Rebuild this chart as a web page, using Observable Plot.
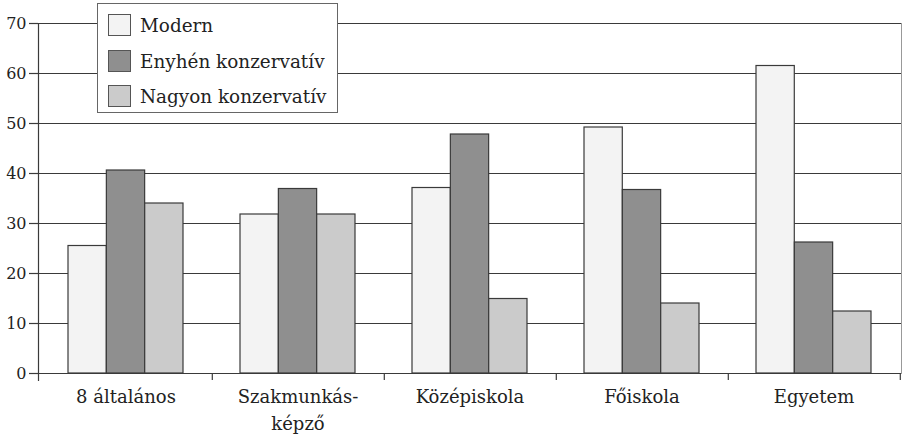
<!DOCTYPE html>
<html>
<head>
<meta charset="utf-8">
<script src="https://cdn.jsdelivr.net/npm/d3@7"></script>
<script src="https://cdn.jsdelivr.net/npm/@observablehq/plot@0.6"></script>
<style>
  html, body { margin: 0; padding: 0; background: #fff; }
  #wrap { position: relative; width: 903px; height: 437px; }
  #legend {
    position: absolute; left: 97px; top: 3px; width: 241px; height: 110px;
    background: #fff; border: 1.3px solid #666; box-sizing: border-box;
    font-family: "DejaVu Serif"; font-size: 18.4px; color: #222;
  }
  .row { position: absolute; left: 10px; height: 22px; display: flex; align-items: center; }
  .sw { width: 23px; height: 22px; border: 1.3px solid #555; box-sizing: border-box; margin-right: 9px; }
</style>
</head>
<body>
<div id="wrap"><div id="chart"></div><div id="legend"></div></div>
<script>
const categories = ["8 általános", "Szakmunkás-képző", "Középiskola", "Főiskola", "Egyetem"];
const xTickLabels = ["8 általános", "Szakmunkás-\nképző", "Középiskola", "Főiskola", "Egyetem"];
const seriesNames = ["Modern", "Enyhén konzervatív", "Nagyon konzervatív"];
const modern = [25.5, 31.8, 37.1, 49.2, 61.5];
const enyhen = [40.6, 36.9, 47.8, 36.7, 26.2];
const nagyon = [34.0, 31.8, 14.9, 14.0, 12.4];
const yTicks = [0, 10, 20, 30, 40, 50, 60, 70];
const colors = ["#f3f3f3", "#8f8f8f", "#cbcbcb"];

const W = 903, H = 437, ML = 38, MR = 2, MT = 23, MB = 64;
const step = (W - ML - MR) / categories.length;
const bw = step * 2 / 3;
const third = bw / 3;

const seriesValues = [modern, enyhen, nagyon];
const labelMap = new Map(categories.map((c, i) => [c, xTickLabels[i]]));

const bars = seriesValues.map((vals, k) =>
  Plot.barY(categories.map((c, i) => ({cat: c, value: vals[i]})), {
    x: "cat", y: "value",
    fill: colors[k], stroke: "#3a3a3a", strokeWidth: 1.2,
    insetLeft: k * third, insetRight: (2 - k) * third
  })
);

const chart = Plot.plot({
  width: W, height: H,
  marginLeft: ML, marginRight: MR, marginTop: MT, marginBottom: MB,
  style: {fontFamily: "'DejaVu Serif'", fontSize: "16px", color: "#222", background: "#fff", overflow: "visible"},
  x: {domain: categories, paddingInner: 1/3, paddingOuter: 1/6, label: null},
  y: {domain: [0, 70], label: null},
  marks: [
    Plot.gridY(yTicks, {stroke: "#3a3a3a", strokeOpacity: 1, strokeWidth: 1.2}),
    ...bars,
    Plot.frame({anchor: "left", insetBottom: -7, stroke: "#3a3a3a", strokeWidth: 1.2}),
    Plot.frame({anchor: "right", stroke: "#999", strokeWidth: 1}),
    Plot.axisY(yTicks, {tickSize: 9, tickPadding: 3, fontSize: 16, stroke: "#3a3a3a", strokeWidth: 1.2, label: null}),
    Plot.axisX({tickSize: 7, dx: step / 2, tickFormat: () => "", stroke: "#3a3a3a", strokeWidth: 1.2, label: null}),
    Plot.axisX({tickSize: 0, tickPadding: 10, tickFormat: d => labelMap.get(d), fontSize: 18, lineHeight: 1.5, label: null})
  ]
});
document.getElementById("chart").append(chart);

const legend = document.getElementById("legend");
const rowTops = [10, 46, 81];
seriesNames.forEach((name, k) => {
  const r = document.createElement("div");
  r.className = "row";
  r.style.top = rowTops[k] + "px";
  const sw = document.createElement("div");
  sw.className = "sw";
  sw.style.background = colors[k];
  const t = document.createElement("span");
  t.textContent = name;
  r.append(sw, t);
  legend.append(r);
});
</script>
</body>
</html>
